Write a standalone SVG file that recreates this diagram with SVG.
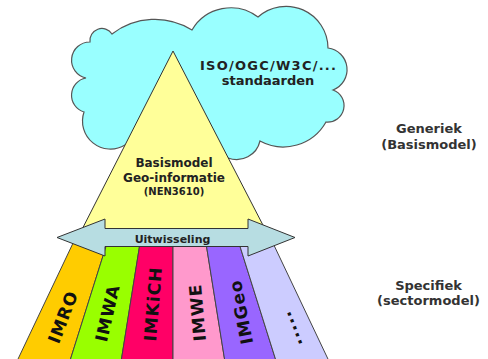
<svg xmlns="http://www.w3.org/2000/svg" width="488" height="359" viewBox="0 0 488 359">
  <style>
    .lbl { font-family: "DejaVu Sans", Verdana, sans-serif; font-weight: bold; fill: #222; text-anchor: middle; }
    .side { font-size: 13px; fill: #333; }
    .strip { stroke: #444; stroke-width: 1; stroke-linejoin: round; }
    .band { font-size: 17px; fill: #111; letter-spacing: 1px; }
  </style>

  <!-- standards cloud -->
  <g id="cloud">
    <path d="M125,145 A28,28 0 0 1 84,112 A17.5,17.5 0 0 1 86,78 A18.2,18.2 0 0 1 90,42 A12,12 0 0 1 112,34 A70,70 0 0 1 192,30 A45,45 0 0 1 258,17 A42,42 0 0 1 328,48 A21.8,21.8 0 0 1 333,90 A16.5,16.5 0 0 1 326,122 A49,49 0 0 1 260,141 A24,24 0 0 1 228,158 Z" fill="#99FFFF" stroke="#555" stroke-width="1.2"/>
    <text class="lbl" x="268" y="70" font-size="13" textLength="136" lengthAdjust="spacing">ISO/OGC/W3C/...</text>
    <text class="lbl" x="268" y="85" font-size="13">standaarden</text>
  </g>

  <!-- sector model bands -->
  <g id="band-imro">
    <polygon class="strip" points="74.5,240 108,240 69.6,362 16.6,362" fill="#FFCC00"/>
    <text class="lbl band" transform="translate(63,317) rotate(-69)" x="0" y="6">IMRO</text>
  </g>
  <g id="band-imwa">
    <polygon class="strip" points="108,240 140.5,240 121,362 69.6,362" fill="#99FF00"/>
    <text class="lbl band" transform="translate(107.5,313) rotate(-77)" x="0" y="6">IMWA</text>
  </g>
  <g id="band-imkich">
    <polygon class="strip" points="140.5,240 173,240 173,362 121,362" fill="#FF0066"/>
    <text class="lbl band" transform="translate(153,304) rotate(-85.5)" x="0" y="6">IMKiCH</text>
  </g>
  <g id="band-imwe">
    <polygon class="strip" points="173,240 205.5,240 225,362 173,362" fill="#FF99CC"/>
    <text class="lbl band" transform="translate(197.5,312.5) rotate(-94.8)" x="0" y="6">IMWE</text>
  </g>
  <g id="band-imgeo">
    <polygon class="strip" points="205.5,240 238,240 276.4,362 225,362" fill="#9966FF"/>
    <text class="lbl band" transform="translate(241,312) rotate(-101)" x="0" y="6">IMGeo</text>
  </g>
  <g id="band-more">
    <polygon class="strip" points="238,240 271.5,240 329.4,362 276.4,362" fill="#CCCCFF"/>
    <text class="lbl band" transform="translate(290.5,329) rotate(-111)" x="0" y="6">.....</text>
  </g>

  <!-- generic base model -->
  <g id="basismodel">
    <polygon points="173,51 81.7,230 265.5,230" fill="#FFFF99" stroke="#333" stroke-width="1"/>
    <text class="lbl" x="174" y="166.5" font-size="12">Basismodel</text>
    <text class="lbl" x="174" y="181.5" font-size="12">Geo-informatie</text>
    <text class="lbl" x="174" y="195" font-size="10">(NEN3610)</text>
  </g>

  <!-- exchange double arrow -->
  <g id="connectors">
    <g id="uitwisseling">
      <polygon points="57,237.5 105,219 105,228.5 248,228.5 248,219 295,237.5 248,256 248,246.5 105,246.5 105,256" fill="#B7DDE2" stroke="#333" stroke-width="1" stroke-linejoin="miter"/>
      <text class="lbl" x="172.5" y="242.5" font-size="11">Uitwisseling</text>
    </g>
  </g>

  <!-- level captions -->
  <g id="generiek">
    <text class="lbl side" x="429" y="133">Generiek</text>
    <text class="lbl side" x="429" y="149">(Basismodel)</text>
  </g>
  <g id="specifiek">
    <text class="lbl side" x="428.5" y="290">Specifiek</text>
    <text class="lbl side" x="428.5" y="305">(sectormodel)</text>
  </g>
</svg>
